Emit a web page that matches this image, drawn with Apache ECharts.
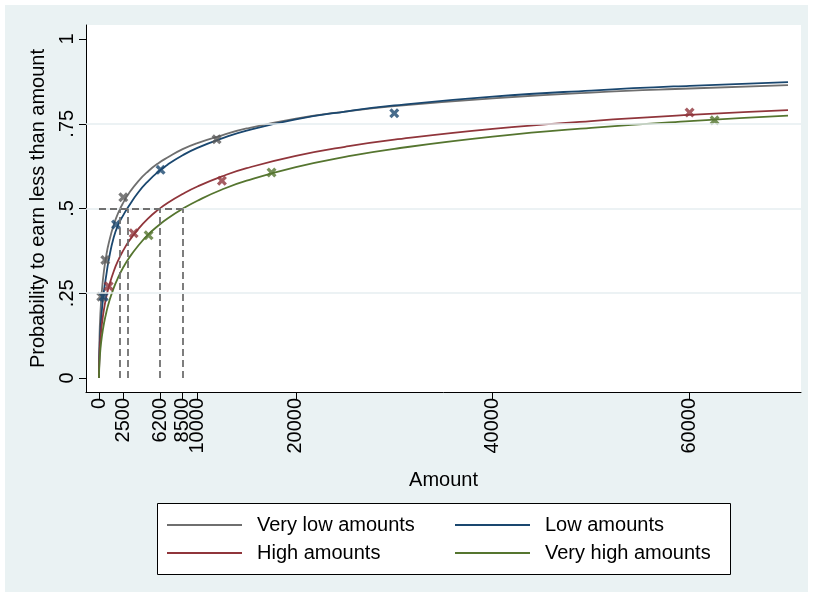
<!DOCTYPE html>
<html>
<head>
<meta charset="utf-8">
<script src="https://cdn.jsdelivr.net/npm/echarts@6/dist/echarts.min.js"></script>
<style>
  html, body { margin: 0; padding: 0; background: #ffffff; }
  #chart { width: 813px; height: 596px; }
</style>
</head>
<body>
<div id="chart"></div>
<script>
// Amounts at which the fitted distribution curves are sampled
const amounts = [0, 50, 150, 300, 500, 750, 1000, 1500, 2000, 2500, 3000, 4000, 5000, 6000, 7000, 8500, 10000, 12500, 15000, 20000, 25000, 30000, 40000, 50000, 60000, 70000];

// Fitted probability to earn less than each amount, one list per group
const veryLowCurve  = [0, 0.119, 0.195, 0.259, 0.315, 0.363, 0.399, 0.452, 0.490, 0.519, 0.543, 0.581, 0.610, 0.633, 0.651, 0.675, 0.693, 0.716, 0.736, 0.765, 0.786, 0.802, 0.825, 0.842, 0.854, 0.864];
const lowCurve      = [0, 0.079, 0.142, 0.202, 0.256, 0.305, 0.350, 0.415, 0.455, 0.482, 0.506, 0.548, 0.581, 0.608, 0.630, 0.657, 0.679, 0.707, 0.730, 0.763, 0.786, 0.804, 0.830, 0.848, 0.862, 0.873];
const highCurve     = [0, 0.067, 0.116, 0.160, 0.202, 0.240, 0.269, 0.315, 0.350, 0.378, 0.402, 0.440, 0.471, 0.496, 0.517, 0.543, 0.565, 0.595, 0.619, 0.655, 0.682, 0.703, 0.735, 0.758, 0.776, 0.790];
const veryHighCurve = [0, 0.047, 0.086, 0.124, 0.160, 0.194, 0.222, 0.266, 0.300, 0.328, 0.352, 0.391, 0.423, 0.449, 0.471, 0.499, 0.523, 0.556, 0.582, 0.622, 0.652, 0.676, 0.712, 0.738, 0.758, 0.774];

// Observed points (amount, probability) per group
const veryLowAmounts  = [230, 640, 2470, 11950];
const veryLowProbs    = [0.240, 0.348, 0.533, 0.704];
const lowAmounts      = [480, 1730, 6260, 30000];
const lowProbs        = [0.240, 0.453, 0.614, 0.781];
const highAmounts     = [980, 3520, 12490, 60000];
const highProbs       = [0.271, 0.427, 0.582, 0.783];
const veryHighAmounts = [5040, 17530, 62540];
const veryHighProbs   = [0.421, 0.606, 0.760];

// Medians (amount where probability reaches .5) marked with dashed guides
const medianAmounts = [2150, 2900, 6200, 8500];
const medianLevel = 0.5;

// Axis ticks
const xTicks = [0, 2500, 6200, 8500, 10000, 20000, 40000, 60000];
const yTicks = [0, 0.25, 0.5, 0.75, 1];
const yGridLines = [0.25, 0.5, 0.75];

const groupNames = ['Very low amounts', 'Low amounts', 'High amounts', 'Very high amounts'];
const lineColors = ['#6f6f6f', '#1a476f', '#90353b', '#55752f'];
const markColors = ['#595959', '#1a476f', '#90353b', '#55752f'];

const FONT = 'Liberation Sans, Arial, sans-serif';
const CROSS = 'path://M0,2.3 L2.3,0 L5,2.7 L7.7,0 L10,2.3 L7.3,5 L10,7.7 L7.7,10 L5,7.3 L2.3,10 L0,7.7 L2.7,5 Z';

const zip = (xs, ys) => xs.map((x, i) => [x, ys[i]]);
const curves = [veryLowCurve, lowCurve, highCurve, veryHighCurve];
const pts = [
  zip(veryLowAmounts, veryLowProbs),
  zip(lowAmounts, lowProbs),
  zip(highAmounts, highProbs),
  zip(veryHighAmounts, veryHighProbs)
];

const series = [];

// light horizontal grid lines
series.push({
  type: 'line', data: [[0, 0]], symbol: 'none', lineStyle: { opacity: 0 }, z: 1, silent: true,
  markLine: {
    silent: true, symbol: ['none', 'none'], label: { show: false },
    lineStyle: { color: '#e6eef0', width: 1.5, type: 'solid' },
    emphasis: { disabled: true },
    data: yGridLines.map(v => ({ yAxis: v }))
  }
});

// dashed guides at the medians
const guideData = [[{ coord: [0, medianLevel] }, { coord: [Math.max(...medianAmounts), medianLevel] }]]
  .concat(medianAmounts.map(a => [{ coord: [a, 0] }, { coord: [a, medianLevel] }]));
series.push({
  type: 'line', data: [[0, 0]], symbol: 'none', lineStyle: { opacity: 0 }, z: 2, silent: true,
  markLine: {
    silent: true, symbol: ['none', 'none'], label: { show: false },
    lineStyle: { color: '#707070', width: 1.8, type: [7, 4] },
    emphasis: { disabled: true },
    data: guideData
  }
});

curves.forEach((c, i) => {
  series.push({
    name: groupNames[i], type: 'line', data: zip(amounts, c),
    showSymbol: false, symbol: 'none', smooth: 0.5,
    lineStyle: { color: lineColors[i], width: 1.8 }, itemStyle: { color: lineColors[i] },
    z: 3, silent: true
  });
});
pts.forEach((p, i) => {
  series.push({
    name: 'pts' + i, type: 'scatter', data: p, symbol: CROSS, symbolSize: 10,
    itemStyle: { color: markColors[i] }, z: 4, silent: true
  });
});

const legendCommon = {
  orient: 'vertical', icon: 'rect', itemWidth: 75, itemHeight: 2, itemGap: 8, padding: 0,
  selectedMode: false,
  textStyle: { fontFamily: FONT, fontSize: 20, color: '#000', lineHeight: 20, padding: [0, 0, 0, 10] }
};

const option = {
  animation: false,
  backgroundColor: '#ffffff',
  graphic: [
    { type: 'rect', z: -10, shape: { x: 5, y: 5, width: 803, height: 587 }, style: { fill: '#eaf2f3' } },
    { type: 'rect', z: 1, shape: { x: 157.5, y: 503.5, width: 573, height: 71 }, style: { fill: '#ffffff', stroke: '#000', lineWidth: 1 } }
  ],
  grid: { left: 86, top: 25, width: 715, height: 367, show: true, backgroundColor: '#ffffff', borderWidth: 0, containLabel: false },
  legend: [
    Object.assign({ left: 167, top: 515, data: [groupNames[0], groupNames[2]] }, legendCommon),
    Object.assign({ left: 455, top: 515, data: [groupNames[1], groupNames[3]] }, legendCommon)
  ],
  xAxis: {
    type: 'value', min: -1320, max: 71320,
    name: 'Amount', nameLocation: 'middle', nameGap: 78,
    nameTextStyle: { fontFamily: FONT, fontSize: 20, color: '#000' },
    axisLine: { show: true, onZero: false, lineStyle: { color: '#000', width: 1 } },
    axisTick: { show: true, length: 7, customValues: xTicks, lineStyle: { color: '#000' } },
    axisLabel: {
      customValues: xTicks, rotate: 90, margin: 6, fontFamily: FONT, fontSize: 20, color: '#000',
      formatter: v => String(v)
    },
    splitLine: { show: false }
  },
  yAxis: {
    type: 'value', min: -0.0413, max: 1.0413,
    name: 'Probability to earn less than amount', nameLocation: 'middle', nameGap: 38, nameRotate: 90,
    nameTextStyle: { fontFamily: FONT, fontSize: 20, color: '#000' },
    axisLine: { show: true, onZero: false, lineStyle: { color: '#000', width: 1 } },
    axisTick: { show: true, length: 7, customValues: yTicks, lineStyle: { color: '#000' } },
    axisLabel: {
      customValues: yTicks, rotate: 90, margin: 9, fontFamily: FONT, fontSize: 20, color: '#000',
      formatter: v => (v === 0 || v === 1) ? String(v) : String(v).replace(/^0\./, '.')
    },
    splitLine: { show: false }
  },
  series: series
};

const chart = echarts.init(document.getElementById('chart'), null, { renderer: 'canvas' });
chart.setOption(option);
</script>
</body>
</html>
